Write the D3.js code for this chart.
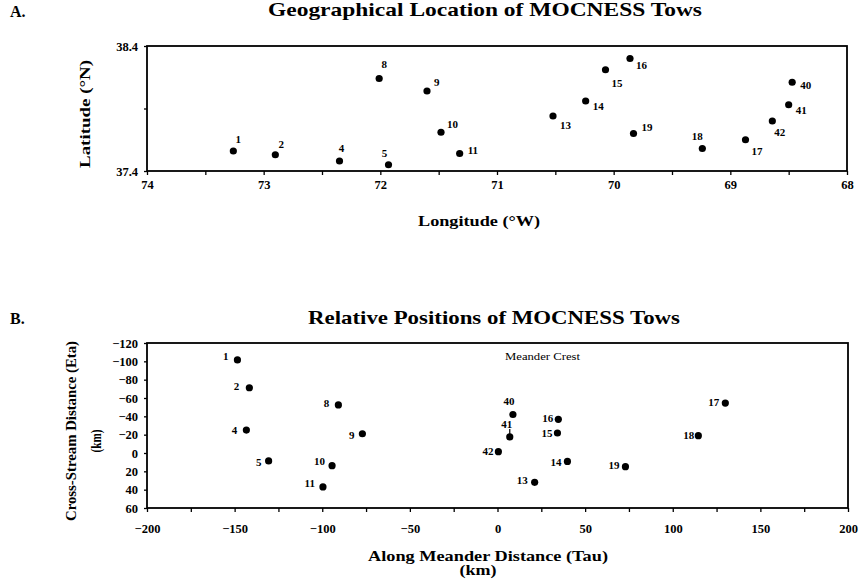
<!DOCTYPE html>
<html>
<head>
<meta charset="utf-8">
<script src="https://cdn.jsdelivr.net/npm/d3@7/dist/d3.min.js"></script>
<style>
  body { margin: 0; background: #fff; }
  svg { font-family: "Liberation Serif", "Times New Roman", serif; }
  .tick line { stroke-width: 1.3; }
  .domain { display: none; }
</style>
</head>
<body>
<div id="chart"></div>
<script>
// Panel A: geographical location of tows
var towsA = ["1", "2", "4", "5", "8", "9", "10", "11", "13", "14", "15", "16", "19", "18", "17", "42", "41", "40"];
var lonA = [73.26, 72.90, 72.35, 71.93, 72.01, 71.60, 71.48, 71.32, 70.52, 70.24, 70.07, 69.86, 69.83, 69.24, 68.87, 68.64, 68.50, 68.47];
var latA = [37.56, 37.53, 37.48, 37.45, 38.14, 38.04, 37.71, 37.54, 37.84, 37.96, 38.21, 38.30, 37.70, 37.58, 37.65, 37.80, 37.93, 38.11];
var lonTicks = [74, 73, 72, 71, 70, 69, 68];
var latTicks = [37.4, 38.4];

// Panel B: relative positions (km)
var towsB = ["1", "2", "4", "5", "8", "9", "10", "11", "40", "16", "41", "15", "42", "14", "13", "19", "18", "17"];
var tauB = [-148.4, -141.6, -143.3, -130.6, -90.8, -77.1, -94.4, -99.6, 8.8, 34.7, 7, 34.2, 0.5, 39.9, 21.2, 73, 114.6, 130];
var etaB = [-101.5, -71.2, -25, 8.6, -52.4, -21, 13.8, 37, -42, -36.7, -17.5, -21.8, -1.4, 9.2, 32, 14.9, -18.9, -54.5];
var tauTicks = [-200, -150, -100, -50, 0, 50, 100, 150, 200];
var etaTicks = [-120, -100, -80, -60, -40, -20, 0, 20, 40, 60];

// label offsets (px) relative to the dot: [dx, dy, anchor]
var offA = {
    "1": [5, -12, "middle"], "2": [6, -11, "middle"], "4": [2, -13, "middle"], "5": [-4, -12, "middle"],
    "8": [5, -14, "middle"], "9": [7, -9, "start"], "10": [6, -8, "start"], "11": [8, -3, "start"],
    "13": [7, 9, "start"], "14": [7, 5, "start"], "15": [6, 13, "start"], "16": [6, 7, "start"],
    "19": [8, -6, "start"], "18": [-5, -12, "middle"], "17": [6, 11, "start"], "42": [2, 11, "start"],
    "41": [7, 5, "start"], "40": [8, 3, "start"]
};
var offB = {
    "1": [-9, -4, "end"], "2": [-10, -2, "end"], "4": [-9, 0, "end"], "5": [-7, 1, "end"],
    "8": [-9, -2, "end"], "9": [-8, 1, "end"], "10": [-7, -5, "end"], "11": [-8, -4, "end"],
    "40": [-4, -13, "middle"], "16": [-5, -1, "end"], "41": [-3, -13, "middle"], "15": [-5, 0, "end"],
    "42": [-5, -1, "end"], "14": [-6, 1, "end"], "13": [-7, -2, "end"], "19": [-6, -2, "end"],
    "18": [-4, -1, "end"], "17": [-6, -1, "end"]
};

var serif = '"Liberation Serif", "Times New Roman", serif';

var svg = d3.select('#chart').append('svg')
    .attr('width', 864)
    .attr('height', 584);

var label = function (g, x, y, size, txt, len, rot) {
    var t = g.append('text')
        .attr('text-anchor', 'middle')
        .attr('font-size', size)
        .attr('font-weight', 'bold')
        .text(txt);
    if (rot) {
        t.attr('transform', 'translate(' + x + ',' + y + ') rotate(-90)');
    } else {
        t.attr('x', x).attr('y', y);
    }
    if (len) {
        t.attr('textLength', len).attr('lengthAdjust', 'spacingAndGlyphs');
    }
    return t;
};

var styleAxis = function (g) {
    g.attr('font-family', serif)
        .attr('font-size', 12.5)
        .attr('font-weight', 'bold');
};

var drawFrame = function (g, x0, y0, x1, y1) {
    g.append('rect')
        .attr('x', x0).attr('y', y0)
        .attr('width', x1 - x0).attr('height', y1 - y0)
        .attr('fill', 'none')
        .attr('stroke', '#000')
        .attr('stroke-width', 1.8);
};

var drawDots = function (g, xs, ys, names, x, y, off) {
    var pts = names.map(function (n, i) {
        return {name: n, x: x(xs[i]), y: y(ys[i])};
    });
    g.selectAll('.dot').data(pts).enter().append('circle')
        .attr('class', 'dot')
        .attr('cx', function (d) { return d.x; })
        .attr('cy', function (d) { return d.y; })
        .attr('r', 3.6)
        .attr('fill', '#000');
    g.selectAll('.lbl').data(pts).enter().append('text')
        .attr('class', 'lbl')
        .attr('x', function (d) { return d.x + off[d.name][0]; })
        .attr('y', function (d) { return d.y + off[d.name][1]; })
        .attr('dy', '0.35em')
        .attr('text-anchor', function (d) { return off[d.name][2]; })
        .attr('font-size', 11)
        .attr('font-weight', 'bold')
        .text(function (d) { return d.name; });
    return pts;
};

// ---------- Panel A ----------
var ax = d3.scaleLinear().domain([74, 68]).range([147, 847]),
    ay = d3.scaleLinear().domain([37.4, 38.4]).range([171, 46]);

svg.append('text').attr('x', 10).attr('y', 17)
    .attr('font-size', 16).attr('font-weight', 'bold').text('A.');
label(svg, 485, 16, 19, 'Geographical Location of MOCNESS Tows', 434);

var gA = svg.append('g');
gA.append('g').attr('transform', 'translate(0,171)')
    .call(d3.axisBottom(ax).tickValues(d3.range(74, 67.9, -0.5)).tickSize(4).tickPadding(5)
        .tickFormat(function (d) { return lonTicks.indexOf(d) >= 0 ? d3.format('d')(d) : ''; }))
    .call(styleAxis);
gA.append('g').attr('transform', 'translate(147,0)')
    .call(d3.axisLeft(ay).tickValues([37.4, 37.9, 38.4]).tickSize(3).tickPadding(6)
        .tickFormat(function (d) { return latTicks.indexOf(d) >= 0 ? d3.format('.1f')(d) : ''; }))
    .call(styleAxis);
drawFrame(gA, 147, 46, 847, 171);
drawDots(gA, lonA, latA, towsA, ax, ay, offA);

label(gA, 479, 226, 14, 'Longitude (°W)', 122);
label(gA, 90, 114, 14, 'Latitude (°N)', 108, true);

// ---------- Panel B ----------
var bx = d3.scaleLinear().domain([-200, 200]).range([147, 848]),
    by = d3.scaleLinear().domain([-120, 60]).range([343, 508]);

svg.append('text').attr('x', 10).attr('y', 324)
    .attr('font-size', 16).attr('font-weight', 'bold').text('B.');
label(svg, 494, 324, 19, 'Relative Positions of MOCNESS Tows', 372);

var gB = svg.append('g');
gB.append('g').attr('transform', 'translate(0,508)')
    .call(d3.axisBottom(bx).tickValues(d3.range(-200, 201, 25)).tickSize(4).tickPadding(12)
        .tickFormat(function (d) { return tauTicks.indexOf(d) >= 0 ? d3.format('d')(d) : ''; }))
    .call(styleAxis);
gB.append('g').attr('transform', 'translate(147,0)')
    .call(d3.axisLeft(by).tickValues(etaTicks).tickSize(3).tickPadding(6)
        .tickFormat(d3.format('d')))
    .call(styleAxis);
drawFrame(gB, 147, 343, 848, 508);
var ptsB = drawDots(gB, tauB, etaB, towsB, bx, by, offB);

// leader under label 41
var p41 = ptsB.filter(function (d) { return d.name === '41'; })[0];
gB.append('line')
    .attr('x1', p41.x).attr('x2', p41.x)
    .attr('y1', p41.y - 8).attr('y2', p41.y)
    .attr('stroke', '#000').attr('stroke-width', 1.2);

gB.append('text').attr('x', 505).attr('y', 360)
    .attr('font-size', 10.5)
    .attr('textLength', 75).attr('lengthAdjust', 'spacingAndGlyphs')
    .text('Meander Crest');

label(gB, 488, 561, 15, 'Along Meander Distance (Tau)', 240);
label(gB, 478, 575, 14, '(km)', 37);
label(gB, 76, 431, 14, 'Cross-Stream Distance (Eta)', 180, true);
label(gB, 101, 441, 14, '(km)', 23, true);
</script>
</body>
</html>
